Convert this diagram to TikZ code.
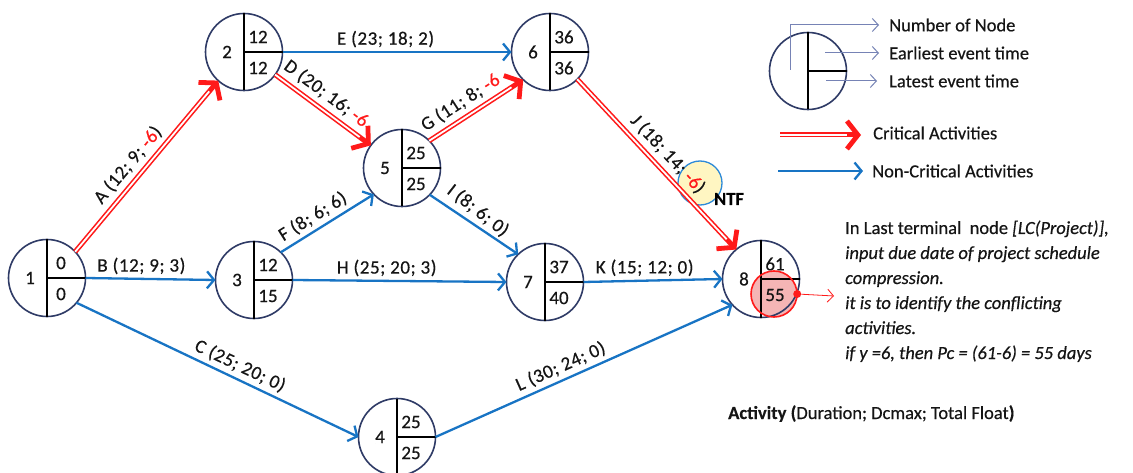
\documentclass[tikz,border=0pt]{standalone}
\usepackage{fontspec}
\setmainfont{Carlito}[FakeBold=0.4]
\newfontfamily\lblfont{Carlito}[FakeBold=0.4, LetterSpace=3]
\usetikzlibrary{arrows.meta}
\definecolor{navy}{HTML}{2F3B66}
\definecolor{actblue}{HTML}{1874C4}
\definecolor{critred}{HTML}{FF1A1A}
\definecolor{legcol}{HTML}{7683B5}
\definecolor{txt}{HTML}{151515}
\definecolor{ntfyellow}{HTML}{FFF6C2}
\definecolor{ntfblue}{HTML}{2E8AD8}
\definecolor{pinkfill}{HTML}{F5B5B5}
\newcommand{\evnode}[6]{%
  \node[event] (#1) at (#2,#3) {};
  \draw[divider] (#1.north) -- (#1.south);
  \draw[divider] (#1.center) -- (#1.east);
  \node[num] (#1num) at ([shift={(-17,0)}]#1.center) {#4};
  \node[num] (#1es) at ([shift={(14,-15)}]#1.center) {#5};
  \node[num] (#1ls) at ([shift={(14,16)}]#1.center) {#6};
}
\begin{document}
\begin{tikzpicture}[x=1pt,y=-1pt,
  event/.style={circle, draw=navy, line width=1.6pt, minimum size=77pt, inner sep=0pt, outer sep=0pt},
  divider/.style={draw=black, line width=1.4pt},
  num/.style={font=\fontsize{19}{20}\selectfont, text=txt, inner sep=0pt},
  lbl/.style={font=\lblfont\fontsize{19}{20}\selectfont, text=txt, inner sep=2.5pt},
  act/.style={draw=actblue, line width=2.3pt, -{Straight Barb[length=7pt,width=17pt,line width=2.3pt]}},
  critout/.style={draw=critred, line width=5pt, -{Straight Barb[length=11pt,width=28pt,line width=4.8pt]}},
  critin/.style={draw=white, line width=1.8pt, shorten >=14pt},
  legline/.style={draw=legcol, line width=1pt, -{Straight Barb[length=6pt,width=13pt,line width=1pt]}},
  legtxt/.style={font=\fontsize{18.5}{20}\selectfont, text=txt, inner sep=0pt, anchor=west},
  note/.style={font=\fontsize{18.5}{20}\selectfont, text=txt, inner sep=0pt, anchor=base west},
]
\fill[white] (0,0) rectangle (1133,473);
\useasboundingbox (0,0) rectangle (1133,473);

% highlight fill behind node 8
\node[circle, fill=pinkfill, minimum size=46pt, inner sep=0pt] (hl) at (774,294) {};
% NTF circle
\node[circle, fill=ntfyellow, draw=ntfblue, line width=1.3pt, minimum size=44pt, inner sep=0pt] (ntf) at (700,183) {};

\evnode{n1}{47}{278}{1}{0}{0}
\evnode{n2}{244}{52}{2}{12}{12}
\evnode{n3}{254}{280}{3}{12}{15}
\evnode{n4}{397}{437}{4}{25}{25}
\evnode{n5}{402}{168}{5}{25}{25}
\evnode{n6}{550}{52}{6}{36}{36}
\evnode{n7}{545}{282}{7}{37}{40}
\evnode{n8}{761}{279}{8}{61}{55}

% critical activities
\draw[critout] (n1.43) -- (n2.228);
\draw[critin] (n1.43) -- node[lbl, sloped, above=3.5pt, pos=0.45] (lA) {A (12; 9; \textcolor{critred}{-6})} (n2.228);
\draw[critout] (n2.-36) -- (n5.144);
\draw[critin] (n2.-36) -- node[lbl, sloped, above=3.5pt, pos=0.44] (lD) {D (20; 16; \textcolor{critred}{-6}} (n5.144);
\draw[critout] (n5.45) -- (n6.226);
\draw[critin] (n5.45) -- node[lbl, sloped, above=3.5pt, pos=0.42] (lG) {G (11; 8; \textcolor{critred}{-6}} (n6.226);
\draw[critout] (n6.-45) -- (n8.130);
\draw[critin] (n6.-45) -- node[lbl, sloped, above=3.5pt, pos=0.5] (lJ) {J (18; 14; \textcolor{critred}{-6})} (n8.130);

% non-critical activities
\draw[act] (n1.east) -- node[lbl, above=1pt, pos=0.43] (lB) {B (12; 9; 3)} (n3.west);
\draw[act] (n1.-40) -- node[lbl, sloped, above=1.5pt, pos=0.56] (lC) {C (25; 20; 0)} (n4.west);
\draw[act] (n2.east) -- node[lbl, above=1pt, pos=0.45] (lE) {E (23; 18; 2)} (n6.west);
\draw[act] (n3.46) -- node[lbl, sloped, above=1.5pt, pos=0.42] (lF) {F (8; 6; 6)} (n5.223);
\draw[act] (n3.east) -- node[lbl, above=1pt, pos=0.44] (lH) {H (25; 20; 3)} (n7.west);
\draw[act] (n5.-44) -- node[lbl, sloped, above=2pt, pos=0.45, rotate=-4] (lI) {I (8; 6; 0)} (n7.134);
\draw[act] (n7.east) -- node[lbl, above=1pt, pos=0.44] (lK) {K (15; 12; 0)} (n8.west);
\draw[act] (n4.east) -- node[lbl, sloped, above=1.5pt, pos=0.44] (lL) {L (30; 24; 0)} (n8.222);

\node[font=\bfseries\fontsize{18.5}{20}\selectfont, text=black, inner sep=0pt] (ntftext) at (729,199) {NTF};

% highlight outline, dot and arrow
\draw[critred, line width=1.6pt] (hl.center) circle[radius=23pt];
\node[circle, fill=critred, minimum size=8pt, inner sep=0pt] (hldot) at (hl.east) {};
\coordinate (hlend) at (834,296);
\draw[critred, line width=0.8pt, -{Straight Barb[length=6pt,width=13pt,line width=0.8pt]}] (hldot) -- (hlend);

% legend
\node[event] (leg) at (808,71) {};
\draw[divider] (leg.north) -- (leg.south);
\draw[divider] (leg.center) -- (leg.east);
\coordinate (lgA) at (790,70);
\coordinate (lgB) at (825,53);
\coordinate (lgC) at (826,81);
\node[legtxt] (lt1) at (889,25) {Number of Node};
\node[legtxt] (lt2) at (889,53) {Earliest event time};
\node[legtxt] (lt3) at (889,81) {Latest event time};
\draw[legline] (lgA) |- ([xshift=-10pt]lt1.west);
\draw[legline] (lgB) -- ([xshift=-10pt]lt2.west);
\draw[legline] (lgC) -- ([xshift=-12pt]lt3.west);

\coordinate (lc1) at (780,135);
\coordinate (lc2) at (861,135);
\draw[critout] (lc1) -- (lc2);
\draw[critin] (lc1) -- (lc2);
\node[legtxt] (lt4) at (873,133) {Critical Activities};
\coordinate (lb1) at (778,171);
\coordinate (lb2) at (863,171);
\draw[act] (lb1) -- (lb2);
\node[legtxt] (lt5) at (872,171) {Non-Critical Activities};

% note text
\node[note] (nt1) at (845,234) {In Last terminal\ \ node \textit{[LC(Project)],}};
\node[note] (nt2) at (845,259) {\textit{input due date of project schedule}};
\node[note] (nt3) at (845,284) {\textit{compression.}};
\node[note] (nt4) at (845,309) {\textit{it is to identify the conflicting}};
\node[note] (nt5) at (845,334) {\textit{activities.}};
\node[note] (nt6) at (845,359) {\textit{if y =6, then Pc = (61-6) = 55 days}};

\node[note] (actnote) at (728,419) {\textbf{Activity (}Duration; Dcmax; Total Float\textbf{)}};
\end{tikzpicture}
\end{document}
